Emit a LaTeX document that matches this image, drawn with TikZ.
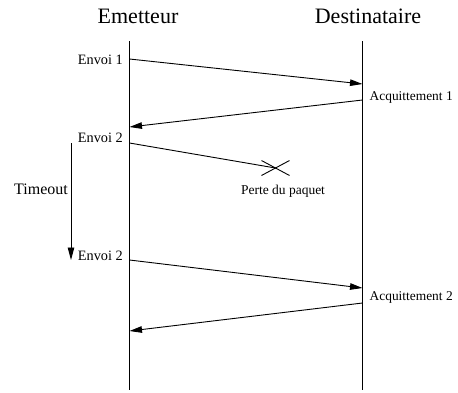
\documentclass[tikz,border=0pt]{standalone}
\usepackage{fontspec}
\setmainfont{Liberation Serif}
\usetikzlibrary{arrows.meta, positioning}
\tikzset {
  head/.style = {font=\fontsize{22}{26}\selectfont, anchor=base, inner sep=0pt},
  event/.style = {font=\fontsize{14.3}{17}\selectfont, inner sep=0pt},
  ack/.style = {font=\fontsize{13.4}{16}\selectfont, inner sep=0pt, anchor=base west},
  note/.style = {font=\fontsize{16}{19}\selectfont, inner sep=0pt},
  small/.style = {font=\fontsize{13.5}{16}\selectfont, inner sep=0pt, anchor=base},
  life/.style = {line width=1.6pt},
  msg/.style = {-{Triangle[length=12.5pt,width=6.5pt]}, line width=0.9pt},
  lost/.style = {line width=0.9pt}
}

\begin{document}
\begin{tikzpicture}[x=1pt, y=-1pt]
    \useasboundingbox (0,0) rectangle (458,392);

    % lifelines
    \node[head] (emetteur) at (138,23) {Emetteur};
    \node[head] (destinataire) at (368,23) {Destinataire};
    \coordinate (etop) at (129.5,41);
    \coordinate (ebot) at (129.5,390);
    \coordinate (dtop) at (362.5,41);
    \coordinate (dbot) at (362.5,390);
    \draw[life] (etop) -- (ebot);
    \draw[life] (dtop) -- (dbot);

    % points on the lifelines
    \coordinate (s1) at (129.5,59);
    \coordinate (r1) at (362.5,84);
    \coordinate (a1) at (362.5,100);
    \coordinate (b1) at (129.5,127);
    \coordinate (s2) at (129.5,143);
    \coordinate (loss) at (275.5,168);
    \coordinate (s3) at (129.5,260);
    \coordinate (r3) at (362.5,288);
    \coordinate (a2) at (362.5,303);
    \coordinate (b2) at (129.5,331);

    \node[event, anchor=base east] (envoi1) at (123,64) {Envoi 1};
    \node[ack] (acq1) at (369.5,100) {Acquittement 1};
    \node[event, anchor=base east] (envoi2) at (123,142) {Envoi 2};
    \node[small] (perte) at (283,194) {Perte du paquet};
    \node[event, anchor=base east] (envoi3) at (123,260) {Envoi 2};
    \node[ack] (acq2) at (369.5,300) {Acquittement 2};

    \draw[msg] (s1) -- (r1);
    \draw[msg] (a1) -- (b1);
    \draw[lost] (s2) -- (loss);
    \draw[lost] (loss) ++(-14,-7.5) -- ++(28,15);
    \draw[lost] (loss) ++(-14,7.5) -- ++(28,-15);
    \draw[msg] (s3) -- (r3);
    \draw[msg] (a2) -- (b2);

    % timeout
    \coordinate (t0) at (71,143);
    \coordinate (t1) at (71,260);
    \draw[msg] (t0) -- (t1);
    \node[note, anchor=base east] (timeout) at (68,194) {Timeout};

\end{tikzpicture}
\end{document}
